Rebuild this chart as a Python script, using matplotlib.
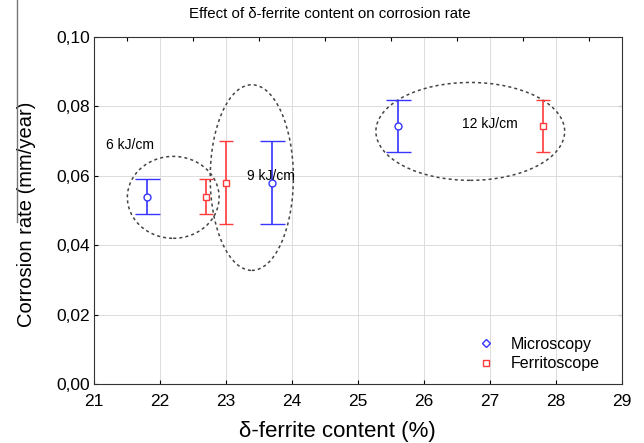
import numpy as np
import matplotlib.pyplot as plt
from matplotlib.patches import Ellipse
from matplotlib.lines import Line2D
from matplotlib.ticker import FuncFormatter

plt.rcParams['font.family'] = ['Liberation Sans', 'DejaVu Sans']

# delta-ferrite content (%) and corrosion rate (mm/year)
micro_x = [21.8, 23.7, 25.6]
micro_y = [0.054, 0.058, 0.0743]
micro_err = [0.005, 0.012, 0.0075]

ferri_x = [22.7, 23.0, 27.8]
ferri_y = [0.054, 0.058, 0.0743]
ferri_err = [0.005, 0.012, 0.0075]

# heat input groups: label, label position, ellipse centre, width, height
groups = ['6 kJ/cm', '9 kJ/cm', '12 kJ/cm']
label_x = [21.55, 23.68, 27.0]
label_y = [0.0688, 0.0600, 0.0748]
ell_cx = [22.2, 23.39, 26.7]
ell_cy = [0.0538, 0.0595, 0.0728]
ell_w = [1.39, 1.26, 2.86]
ell_h = [0.0236, 0.0535, 0.0282]

blue = '#3535ff'
red = '#ff3b3b'

fig = plt.figure(figsize=(6.44, 4.43), dpi=100)
ax = fig.add_axes([0.146, 0.133, 0.82, 0.7835])

ax.errorbar(micro_x, micro_y, yerr=micro_err, fmt='o', color=blue, mfc='white',
            mec=blue, ms=5, mew=1, capsize=9, elinewidth=1.2, capthick=1.2,
            zorder=3)
ax.errorbar(ferri_x, ferri_y, yerr=ferri_err, fmt='s', color=red, mfc='white',
            mec=red, ms=5, mew=1, capsize=5, elinewidth=1.2, capthick=1.2,
            zorder=3)

for i in range(len(groups)):
    ax.add_patch(Ellipse((ell_cx[i], ell_cy[i]), ell_w[i], ell_h[i], fill=False,
                         ls=(0, (2, 2)), lw=1.1, ec='#444444', zorder=2))
    ax.text(label_x[i], label_y[i], groups[i], fontsize=10, ha='center',
            va='center', zorder=4)

ax.set_xlim(21, 29)
ax.set_ylim(0, 0.10)
ax.set_xticks(np.arange(21, 30, 1))
ax.set_yticks(np.arange(0, 0.101, 0.02))
ax.yaxis.set_major_formatter(FuncFormatter(lambda v, p: f'{v:.2f}'.replace('.', ',')))
ax.tick_params(direction='in', labelsize=12.5, length=3, width=0.8, pad=3)
ax.tick_params(axis='x', pad=7)
ax.grid(True, color='#dcdcdc', ls='-', lw=0.7)
ax.set_axisbelow(True)
for s in ax.spines.values():
    s.set_color('#333333')

# inner ticks on top (half-units) and right side
top = ax.secondary_xaxis('top')
top.set_xticks(np.arange(21.5, 29, 1))
top.tick_params(direction='in', length=3, labeltop=False)
top.spines['top'].set_visible(False)
right = ax.secondary_yaxis('right')
right.set_yticks(np.arange(0.02, 0.1, 0.02))
right.tick_params(direction='in', length=3, labelright=False)
right.spines['right'].set_visible(False)

fig.text(0.512, 0.968, 'Effect of \u03b4-ferrite content on corrosion rate',
         fontsize=10.8, ha='center', va='center')
ax.set_xlabel('\u03b4-ferrite content (%)', fontsize=16)
ax.xaxis.set_label_coords(0.46, -0.105)
ax.set_ylabel('Corrosion rate (mm/year)', fontsize=14.5)
ax.yaxis.set_label_coords(-0.11, 0.49)

handles = [Line2D([], [], ls='none', marker='D', ms=4, mfc='white', mec=blue, mew=1),
           Line2D([], [], ls='none', marker='s', ms=5, mfc='white', mec=red, mew=1)]
ax.legend(handles, ['Microscopy', 'Ferritoscope'], loc='lower right', frameon=False,
          fontsize=11.5, handletextpad=0.8, handlelength=1.5, labelspacing=0.3,
          bbox_to_anchor=(0.985, -0.005))

# thin grey edge line on the left of the original image
fig.add_artist(Line2D([0.026, 0.026], [0.5, 1.0], color='#777777', lw=1))

fig.savefig('out.png', dpi=100)
